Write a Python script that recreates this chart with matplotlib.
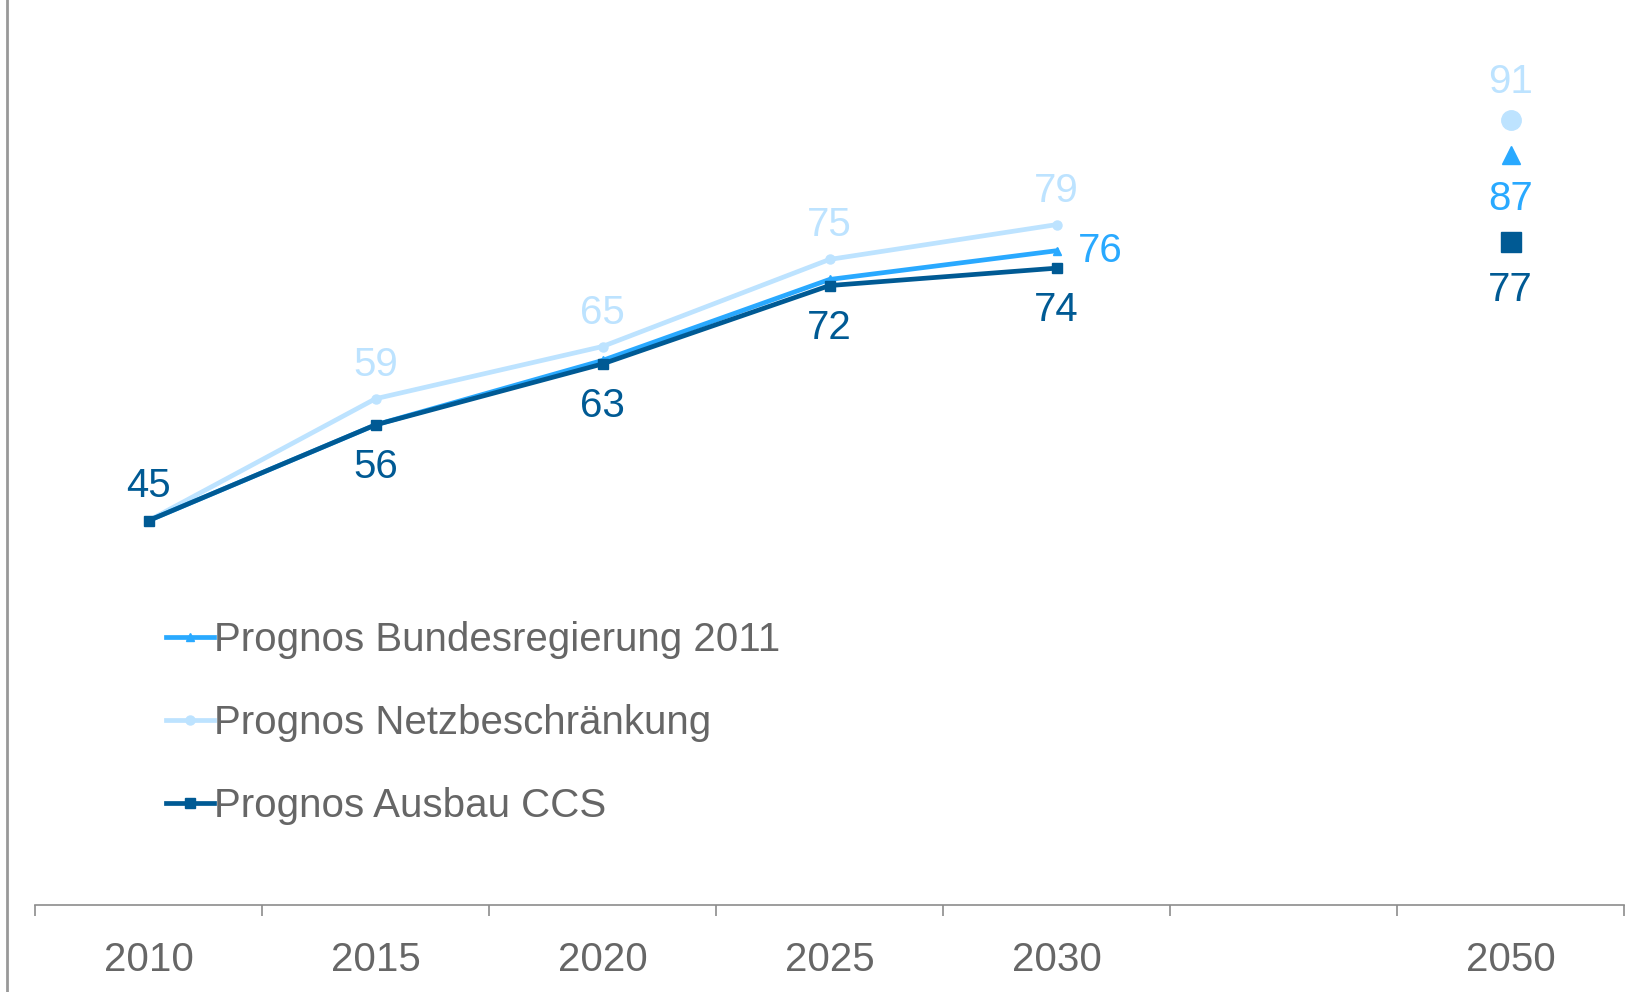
import matplotlib.pyplot as plt
from matplotlib.lines import Line2D

plt.rcParams['font.family'] = ['Liberation Sans', 'DejaVu Sans']

# categories (index 5 is an empty slot between 2030 and 2050)
years = ['2010', '2015', '2020', '2025', '2030', '', '2050']
x_line = [0, 1, 2, 3, 4]
x_2050 = 6

bund = [45, 56, 63.4, 72.7, 76]
netz = [45, 59, 65, 75, 79]
ccs = [45, 56, 63, 72, 74]
bund_2050 = 87
netz_2050 = 91
ccs_2050 = 77

c_bund = '#29A9FF'
c_netz = '#BDE3FF'
c_ccs = '#005A94'
c_grey = '#666666'

fig = plt.figure(figsize=(16.47, 9.92), dpi=100)
ax = fig.add_axes([35 / 1647, 87 / 992, 1589 / 1647, 905 / 992])

# lines
ax.plot(x_line, netz, color=c_netz, lw=3.4, marker='o', ms=6.5,
        label='Prognos Netzbeschränkung', zorder=2)
ax.plot(x_line, bund, color=c_bund, lw=3.4, marker='^', ms=6,
        label='Prognos Bundesregierung 2011', zorder=3)
ax.plot(x_line, ccs, color=c_ccs, lw=3.4, marker='s', ms=7,
        label='Prognos Ausbau CCS', zorder=4)

# 2050 single points
ax.plot([x_2050], [netz_2050], 'o', color=c_netz, ms=14)
ax.plot([x_2050], [bund_2050], '^', color=c_bund, ms=13)
ax.plot([x_2050], [ccs_2050], 's', color=c_ccs, ms=14)

fs = 29

def lab(x, y, txt, color, dx, dy, ha='center'):
    ax.annotate(txt, (x, y), xytext=(dx, dy), textcoords='offset pixels',
                ha=ha, va='center', fontsize=fs, color=color)

# labels
lab(0, ccs[0], '45', c_ccs, 0, 35)
for i in range(1, 5):
    lab(x_line[i], netz[i], str(netz[i]), c_netz, 0, 34)
    lab(x_line[i], ccs[i], str(ccs[i]), c_ccs, 0, -42)
lab(4, bund[4], '76', c_bund, 21, 0, ha='left')
lab(x_2050, netz_2050, str(netz_2050), c_netz, 0, 38)
lab(x_2050, bund_2050, str(bund_2050), c_bund, 0, -44)
lab(x_2050, ccs_2050, str(ccs_2050), c_ccs, 0, -48)

ax.set_xlim(-0.5, 6.5)
ax.set_ylim(0.85, 104.8)

ax.set_xticks(range(len(years)))
ax.set_xticklabels(years)
ax.set_xticks([i - 0.5 for i in range(len(years) + 1)], minor=True)
ax.tick_params(axis='x', which='major', length=0, labelsize=fs,
               labelcolor=c_grey, pad=26)
ax.tick_params(axis='x', which='minor', length=8, width=1.2,
               color='#8c8c8c', direction='out')
ax.set_yticks([])

for s in ['top', 'right', 'left']:
    ax.spines[s].set_visible(False)
ax.spines['bottom'].set_color('#8c8c8c')
ax.spines['bottom'].set_linewidth(1.2)

# frame line on the left edge
fig.add_artist(Line2D([7 / 1647, 7 / 1647], [0, 1], color='#999999',
                      lw=2, transform=fig.transFigure))

handles, labels = ax.get_legend_handles_labels()
order = [1, 0, 2]
leg = fig.legend([handles[i] for i in order], [labels[i] for i in order],
                 loc='center left', bbox_to_anchor=(166 / 1647, 1 - 723 / 992),
                 frameon=False, fontsize=fs, handlelength=1.2,
                 handletextpad=0.0, labelspacing=1.12, borderpad=0,
                 borderaxespad=0)
for t in leg.get_texts():
    t.set_color(c_grey)

fig.savefig('out.png', dpi=100)
